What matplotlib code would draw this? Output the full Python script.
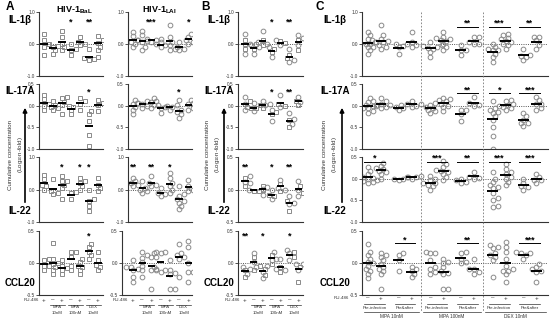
import matplotlib as mpl
import matplotlib.pyplot as plt
import matplotlib.transforms as mtransforms
import numpy as np

mpl.rcParams['font.family'] = ['Liberation Sans', 'DejaVu Sans']
mpl.rcParams['mathtext.fontset'] = 'custom'
mpl.rcParams['mathtext.rm'] = 'Liberation Sans'
mpl.rcParams['mathtext.bf'] = 'Liberation Sans:bold'

W, H = 550, 323

rows = ['IL-1β', 'IL-17A', 'IL-22', 'CCL20']
ru486_ab = ['+', '–', '+', '–', '+', '–', '+']
treat_ab = ['MPA\n10nM', 'MPA\n100nM', 'DEX\n10nM']
ru486_c = ['–', '+'] * 6
timing_c = ['Pre-infection', 'Pre&after'] * 3
treat_c = ['MPA 10nM', 'MPA 100nM', 'DEX 10nM']

# ---- panel A, HIV-1 BaL ----
a_bal_il1b = [[0.32, 0.11, 0.0, -0.09, -0.35], [0.0, -0.09, -0.2, -0.3, -0.05],
              [0.4, 0.22, 0.01, -0.09, -0.2], [0.01, -0.15, -0.2, -0.35],
              [0.22, 0.06, 0.0, -0.04], [-0.15, -0.4, -0.45, -0.5, -0.48],
              [0.24, 0.11, 0.03, -0.1, -0.2]]
a_bal_il17a = [[0.24, 0.15, 0.0, 0.05, -0.1], [0.1, 0.02, -0.02, -0.06, -0.1],
               [0.2, 0.17, 0.09, 0.01, -0.2], [-0.02, -0.1, -0.2, 0.0],
               [0.17, 0.1, 0.05, -0.1], [-0.13, -0.35, -0.68, -0.94, -0.2],
               [0.13, 0.06, 0.01, -0.13]]
a_bal_il22 = [[0.46, 0.31, 0.15, 0.0, 0.1], [0.31, -0.1, -0.15, -0.05],
              [0.41, 0.26, 0.15, 0.05, -0.3, 0.25], [-0.1, -0.3, -0.08],
              [0.36, 0.26, 0.1, 0.0, 0.2], [0.0, -0.3, -0.5, -0.36, -0.65],
              [0.36, 0.15, 0.05, -0.05]]
a_bal_ccl20 = [[0.07, 0.04, -0.04, -0.11, -0.05], [0.31, 0.07, -0.01, -0.06, -0.11, -0.17, 0.0],
               [0.04, -0.04, -0.11, -0.17, -0.08], [0.17, 0.17, 0.09, -0.04, -0.11],
               [0.07, 0.02, -0.06, -0.11, -0.17, -0.04], [0.3, 0.25, 0.17, 0.12, 0.07],
               [0.17, 0.04, -0.06, -0.11, -0.03]]
a_bal_stars = [{3: '*', 5: '**'}, {5: '*'}, {2: '*', 4: '*', 5: '*'}, {5: '*'}]

# ---- panel A, HIV-1 LAI ----
a_lai_il1b = [[0.37, 0.24, 0.11, 0.06, 0.01, -0.09], [0.4, 0.27, 0.14, 0.06, -0.09, -0.2, 0.1],
              [0.17, 0.11, 0.06, 0.15], [0.06, 0.0, -0.04, -0.09],
              [0.58, 0.22, 0.06, -0.04, -0.15, -0.2], [0.06, -0.1, -0.2, -0.15],
              [0.32, 0.22, 0.11, 0.06, 0.0]]
a_lai_il17a = [[0.13, 0.06, 0.05, -0.02, -0.1, -0.2], [0.1, 0.06, 0.05, -0.06, 0.0],
               [0.17, 0.1, 0.09, 0.01, -0.06], [0.01, -0.06, -0.17, -0.02],
               [0.01, -0.02, -0.1, 0.0], [0.13, -0.1, -0.2, -0.28, -0.15],
               [0.13, 0.06, 0.05, -0.06, -0.1]]
a_lai_il22 = [[0.36, 0.26, 0.15, 0.1, 0.2], [0.26, 0.05, -0.05, -0.1, 0.0],
              [0.41, 0.2, 0.15, 0.1], [0.05, -0.1, -0.2, -0.15],
              [0.5, 0.36, 0.2, 0.1, 0.0, -0.1], [0.1, -0.15, -0.3, -0.4, -0.5, -0.35, -0.6, -0.2],
              [0.3, 0.1, -0.05, 0.0]]
a_lai_ccl20 = [[0.04, -0.06, -0.11, -0.22, -0.3, -0.1, -0.06], [0.17, 0.12, 0.02, -0.11, -0.22, 0.08, -0.05],
               [0.15, 0.1, -0.06, -0.11, -0.4, 0.1, -0.11], [0.17, 0.15, -0.11, -0.14, 0.17, -0.1],
               [0.04, -0.11, -0.17, -0.4, -0.4, -0.15], [0.3, 0.12, 0.07, -0.22, 0.15, 0.1],
               [0.35, 0.25, -0.14, -0.3, -0.14, 0.0]]
a_lai_stars = [{2: '***', 6: '*'}, {5: '*'}, {0: '**', 2: '**', 4: '*'}, {}]

# ---- panel B ----
b_il1b = [[0.32, 0.14, 0.01, -0.15, -0.3, 0.0], [-0.04, -0.15, -0.3, 0.0, -0.1],
          [0.4, 0.11, 0.01, -0.04, 0.05], [-0.1, -0.25, -0.4, -0.15],
          [0.11, 0.03, -0.04, 0.08], [-0.15, -0.35, -0.5, -0.45, -0.55],
          [0.27, 0.11, -0.04, -0.2, 0.2]]
b_il17a = [[0.2, 0.1, 0.05, -0.02, -0.1], [0.06, -0.06, -0.13, -0.05],
           [0.1, 0.02, 0.01, -0.06, 0.05], [-0.1, -0.2, -0.35, -0.15],
           [0.24, 0.05, -0.02, 0.0], [-0.17, -0.32, -0.43, -0.5, -0.3],
           [0.2, 0.1, 0.09, 0.01]]
b_il22 = [[0.21, 0.18, 0.1, 0.06, 0.12], [0.01, -0.03, 0.0, -0.02],
          [0.04, 0.0, -0.08, 0.06], [0.0, -0.08, -0.15, -0.1],
          [0.15, 0.08, 0.03, -0.02, 0.0], [-0.1, -0.18, -0.23, -0.33, -0.2],
          [0.13, 0.05, 0.0, -0.06, -0.1]]
b_ccl20 = [[-0.06, -0.11, -0.17, -0.22, -0.1], [0.15, 0.09, 0.02, -0.11, -0.06],
           [-0.04, -0.09, -0.14, -0.19, -0.24, -0.05], [0.17, 0.12, 0.07, -0.01, 0.05],
           [0.07, -0.06, -0.11, -0.14, -0.1], [0.2, 0.17, 0.15, 0.09, 0.05],
           [-0.01, -0.06, -0.11, -0.3, -0.02]]
b_stars = [{3: '*', 5: '**'}, {3: '*', 5: '**'}, {0: '**', 3: '*', 5: '**'}, {0: '**', 2: '*', 5: '*'}]

# ---- panel C ----
c_il1b = [[0.37, 0.27, 0.17, 0.06, 0.01, -0.09, -0.2, -0.3, 0.0, -0.1],
          [0.58, 0.27, 0.17, 0.11, 0.06, -0.04, -0.09, -0.15, 0.05, 0.1],
          [0.0, -0.1, -0.3, -0.05], [0.37, 0.06, -0.04, -0.09, 0.0],
          [0.06, -0.04, -0.15, -0.25, -0.4, -0.1, -0.12, -0.05],
          [0.37, 0.22, 0.11, 0.0, -0.1, -0.2, 0.15, 0.2, 0.1],
          [-0.04, -0.2, -0.35, -0.2], [0.22, 0.06, 0.01, 0.22, 0.0],
          [0.0, -0.1, -0.2, -0.3, -0.4, -0.55, -0.2, -0.15],
          [0.32, 0.27, 0.17, 0.06, -0.04, -0.15, 0.2, 0.1, 0.0],
          [-0.15, -0.35, -0.4, -0.5, -0.38], [0.22, 0.11, -0.04, -0.15, 0.22]]
c_il17a = [[0.17, 0.1, 0.09, 0.01, -0.06, -0.13, -0.17, 0.0, 0.02, -0.05],
           [0.17, 0.1, 0.05, -0.02, -0.06, 0.0, 0.02],
           [0.01, -0.06, -0.1, -0.03], [0.1, 0.05, -0.02, 0.0, 0.03],
           [0.06, 0.01, -0.06, -0.13, -0.17, -0.1, -0.03],
           [0.17, 0.13, 0.1, 0.05, -0.02, -0.13, 0.15, 0.0],
           [-0.1, -0.2, -0.35, -0.1], [0.2, 0.06, 0.01, 0.0],
           [0.1, -0.06, -0.1, -0.17, -0.24, -0.32, -0.5, -0.7, -1.0, -0.15],
           [0.13, 0.1, 0.02, 0.05, -0.02, -0.1, 0.0, -0.05],
           [-0.17, -0.24, -0.32, -0.39, -0.46, -0.4], [0.2, 0.13, 0.05, -0.06, -0.1, 0.05]]
c_il22 = [[0.26, 0.18, 0.11, 0.04, 0.0, -0.04, -0.07, -0.11, -0.05, 0.02],
          [0.37, 0.29, 0.22, 0.18, 0.15, 0.11, 0.0, 0.25],
          [0.04, 0.0, -0.04, 0.0], [0.07, 0.04, 0.0, 0.05],
          [0.07, 0.0, -0.04, -0.11, -0.18, -0.26, -0.15, -0.1],
          [0.4, 0.33, 0.26, 0.18, 0.11, 0.04, -0.04, 0.15, 0.2],
          [0.0, -0.04, -0.07, -0.1], [0.15, 0.04, 0.0, 0.02],
          [0.15, 0.0, -0.07, -0.15, -0.22, -0.33, -0.44, -0.62, -0.5, -0.66, -0.2],
          [0.33, 0.22, 0.11, 0.0, -0.07, -0.15, 0.15, 0.05],
          [0.0, -0.11, -0.18, -0.26, -0.2], [0.11, 0.04, -0.04, -0.02, -0.1]]
c_ccl20 = [[0.3, 0.17, 0.12, 0.07, 0.02, -0.04, -0.09, -0.17, -0.23, -0.12, 0.0],
           [0.15, 0.09, 0.04, -0.01, -0.06, -0.12, -0.17, -0.4, 0.12, -0.1],
           [0.15, 0.12, 0.04, -0.12], [-0.06, -0.12, -0.17, -0.22, -0.1],
           [0.17, 0.15, 0.04, -0.06, -0.14, -0.17, 0.15, -0.1],
           [0.07, 0.02, -0.06, -0.12, -0.17, -0.4, -0.4, -0.15, 0.0],
           [0.17, 0.15, 0.07, 0.02, 0.0], [0.07, -0.09, -0.14, -0.17, -0.1],
           [0.28, 0.23, 0.15, 0.09, 0.04, -0.22, 0.25, 0.12],
           [0.33, 0.25, 0.17, 0.07, -0.04, -0.12, -0.17, -0.3, -0.1, -0.12],
           [0.17, 0.15, 0.12, 0.07, 0.15], [-0.01, -0.06, -0.12, -0.14, -0.3, -0.1]]
c_stars = [{3: '**', 4: '***', 5: '**'}, {3: '**', 4: '*', 5: '***'},
           {0: '*', 2: '***', 3: '**', 4: '***', 5: '***'}, {1: '*', 3: '**', 5: '***'}]

# ------------------------------------------------------------------
row_px = [(12, 76), (84, 149), (157, 222), (231, 295)]
ylims_ac = [(-1, 1), (-1, 0.5), (-1, 1), (-0.5, 0.5)]
ylims_b = [(-1, 1), (-1, 0.5), (-0.5, 0.5), (-0.5, 0.5)]
ylims_c = [(-1, 1), (-1, 0.5), (-1, 0.5), (-0.5, 0.5)]
star_frac = [0.84, 0.88, 0.85, 0.92]
bracket_frac = [0.77, 0.86, 0.93, 0.81]
GRAY = '#8a8a8a'
MS = 3.4
DIAM = MS * 100 / 72

fig = plt.figure(figsize=(W / 100, H / 100), dpi=100)


def fy(p):
    return 1 - p / H


def add_ax(left, top, right, bottom):
    return fig.add_axes([left / W, 1 - bottom / H, (right - left) / W, (bottom - top) / H])


def swarm_x(ax, xc, vals):
    tr = ax.transData
    pts = tr.transform(np.column_stack([np.full(len(vals), xc), vals]))
    x0 = pts[0, 0]
    placed = []
    out = np.empty(len(vals))
    for i in np.argsort(pts[:, 1]):
        y = pts[i, 1]
        for k in [0, 1, -1, 2, -2, 3, -3, 4, -4, 5, -5]:
            x = x0 + k * DIAM * 0.5
            if all((x - a) ** 2 + (y - b) ** 2 >= (DIAM * 0.8) ** 2 for a, b in placed):
                break
        placed.append((x, y))
        out[i] = tr.inverted().transform((x, y))[0]
    return out


def draw(ax, groups, xs, ylim, xlim, markers, hw):
    ax.set_xlim(*xlim)
    ax.set_ylim(*ylim)
    step = 1.0 if ylim[1] - ylim[0] > 1.6 else 0.5
    ticks = np.arange(ylim[0], ylim[1] + 0.01, step)
    ax.set_yticks(ticks)
    ax.set_yticklabels([f'{t:.1f}' for t in ticks])
    ax.set_xticks([])
    for s in ['top', 'right']:
        ax.spines[s].set_visible(False)
    for s in ['left', 'bottom']:
        ax.spines[s].set_linewidth(0.8)
        ax.spines[s].set_color('#333333')
    ax.tick_params(axis='y', length=2, width=0.6, labelsize=3.4, pad=1, colors='#333333')
    ax.axhline(0, color='#555555', ls=(0, (1, 1.3)), lw=0.7, zorder=0)
    ax.patch.set_alpha(0)
    for g, (x, vals) in enumerate(zip(xs, groups)):
        px = swarm_x(ax, x, vals)
        for j, (a, b) in enumerate(zip(px, vals)):
            ax.plot(a, b, ls='none', marker=markers(g, j), ms=MS, mfc='none',
                    mec=GRAY, mew=0.7, zorder=2)
        m = np.mean(vals)
        ax.plot([x - hw, x + hw], [m, m], color='k', lw=1.4, solid_capstyle='butt', zorder=3)


def stars_single(ax, xs, stars, frac):
    tr = mtransforms.blended_transform_factory(ax.transData, ax.transAxes)
    for g, s in stars.items():
        ax.text(xs[g], frac, s, transform=tr, ha='center', va='center', fontsize=6.5,
                fontweight='bold', clip_on=False)


def stars_bracket(ax, xs, stars, frac):
    tr = mtransforms.blended_transform_factory(ax.transData, ax.transAxes)
    for p, s in stars.items():
        a, b = xs[2 * p], xs[2 * p + 1]
        ax.plot([a - 0.3, b + 0.3], [frac, frac], color='k', lw=0.7, transform=tr, clip_on=False)
        ax.text((a + b) / 2, frac - 0.02, s, transform=tr, ha='center', va='bottom', fontsize=6.5,
                fontweight='bold', clip_on=False)


def labels_ab(ax, xs, s_unit):
    tr = mtransforms.blended_transform_factory(ax.transData, fig.transFigure)
    ax.text(xs[0] - 5 / s_unit, fy(300), 'RU-486', transform=tr, ha='right', va='center',
            fontsize=3.2, color='#333333')
    for x, t in zip(xs, ru486_ab):
        ax.text(x, fy(300), t, transform=tr, ha='center', va='center', fontsize=4.5, color='#333333')
    for i, t in enumerate(treat_ab):
        a, b = xs[1 + 2 * i], xs[2 + 2 * i]
        ax.plot([a - 0.3, b + 0.3], [fy(304.5)] * 2, transform=tr, color='#333333', lw=0.5, clip_on=False)
        ax.text((a + b) / 2, fy(305.5), t, transform=tr, ha='center', va='top', fontsize=3.2,
                color='#333333', linespacing=1.6)


def labels_c(ax, xs, s_unit, seps):
    tr = mtransforms.blended_transform_factory(ax.transData, fig.transFigure)
    ax.text(xs[0] - 19 / s_unit, fy(298), 'RU-486', transform=tr, ha='right', va='center',
            fontsize=3.2, color='#333333')
    for x, t in zip(xs, ru486_c):
        ax.text(x, fy(298), t, transform=tr, ha='center', va='center', fontsize=4.5, color='#333333')
    for p, t in enumerate(timing_c):
        a, b = xs[2 * p], xs[2 * p + 1]
        ax.plot([a - 0.3, b + 0.3], [fy(304)] * 2, transform=tr, color='#333333', lw=0.5, clip_on=False)
        ax.text((a + b) / 2, fy(308), t, transform=tr, ha='center', va='center', fontsize=3.2,
                color='#333333')
    bounds = [ax.get_xlim()[0]] + list(seps) + [ax.get_xlim()[1]]
    for q, t in enumerate(treat_c):
        a, b = bounds[q] + 0.15, bounds[q + 1] - 0.15
        ax.plot([a, b], [fy(311.5)] * 2, transform=tr, color='#333333', lw=0.5, clip_on=False)
        ax.text((a + b) / 2, fy(317), t, transform=tr, ha='center', va='center', fontsize=3.4,
                color='#333333')


def ylabel_arrow(x_text, x_arrow):
    fig.text(x_text / W, fy(155), 'Cumulative concentration\n(Log$_{10}$n-fold)', rotation=90,
             ha='center', va='center', fontsize=4.5, color='#333333', linespacing=1.35,
             multialignment='center')
    fig.add_artist(mpl.patches.FancyArrowPatch((x_arrow / W, fy(205)), (x_arrow / W, fy(105)),
                                               transform=fig.transFigure, arrowstyle='-|>',
                                               mutation_scale=6, lw=1.2, color='k'))


def row_label(x, y, t):
    fig.text(x / W, fy(y), t, ha='center', va='center', fontsize=7, fontweight='bold')


# ---- panel A / B ----
xs7 = np.arange(7)
panels_ab = [
    dict(data=[a_bal_il1b, a_bal_il17a, a_bal_il22, a_bal_ccl20], stars=a_bal_stars,
         ylims=ylims_ac, g0=44, s=9.0, lefts=[39, 39, 39, 39], right=103,
         marker=lambda g, j: 's'),
    dict(data=[a_lai_il1b, a_lai_il17a, a_lai_il22, a_lai_ccl20], stars=a_lai_stars,
         ylims=ylims_ac, g0=133, s=9.2, lefts=[128, 128, 128, 122], right=192,
         marker=lambda g, j: 'o'),
    dict(data=[b_il1b, b_il17a, b_il22, b_ccl20], stars=b_stars,
         ylims=ylims_b, g0=245, s=8.85, lefts=[238, 238, 238, 238], right=303,
         marker=lambda g, j: 's' if j % 2 else 'o'),
]
for pnl in panels_ab:
    for r in range(4):
        top, bot = row_px[r]
        left = pnl['lefts'][r]
        ax = add_ax(left, top, pnl['right'], bot)
        xlim = ((left - pnl['g0']) / pnl['s'], (pnl['right'] - pnl['g0']) / pnl['s'])
        draw(ax, pnl['data'][r], xs7, pnl['ylims'][r], xlim, pnl['marker'], 0.4)
        stars_single(ax, xs7, pnl['stars'][r], star_frac[r])
        if r == 3:
            labels_ab(ax, xs7, pnl['s'])

# ---- panel C ----
xs12 = np.array([q * 4.8 + p * 2.35 + m for q in range(3) for p in range(2) for m in range(2)])
seps = [(xs12[3] + xs12[4]) / 2, (xs12[7] + xs12[8]) / 2]
c_data = [c_il1b, c_il17a, c_il22, c_ccl20]
c_unit, c_g0 = 13.0, 368
for r in range(4):
    top, bot = row_px[r]
    ax = add_ax(362, top, 548, bot)
    xlim = ((362 - c_g0) / c_unit, (548 - c_g0) / c_unit)
    draw(ax, c_data[r], xs12, ylims_c[r], xlim, lambda g, j: 'o', 0.42)
    stars_bracket(ax, xs12, c_stars[r], bracket_frac[r])
    if r == 3:
        labels_c(ax, xs12, c_unit, seps)
        ctr = mtransforms.blended_transform_factory(ax.transData, fig.transFigure)
        for sx in seps:
            ax.plot([sx, sx], [fy(12), fy(312)], transform=ctr, color='#777777', lw=0.6,
                    ls=(0, (2, 2)), clip_on=False, zorder=0)

# ---- text decorations ----
for x, t in [(10, 'A'), (205, 'B'), (320, 'C')]:
    fig.text(x / W, fy(7), t, ha='center', va='center', fontsize=8.5, fontweight='bold')
fig.text(74 / W, fy(10), r'HIV-1$_{\mathbf{BaL}}$', ha='center', va='center', fontsize=6.5, fontweight='bold')
fig.text(159 / W, fy(10), r'HIV-1$_{\mathbf{LAI}}$', ha='center', va='center', fontsize=6.5, fontweight='bold')

for x0 in [20, 219, 335]:
    for t, y in zip(rows, [20, 91, 211, 283]):
        row_label(x0, y, t)

ylabel_arrow(16.5, 25)
ylabel_arrow(213.5, 224)
ylabel_arrow(330.5, 342)

fig.savefig('out.png', dpi=100)
